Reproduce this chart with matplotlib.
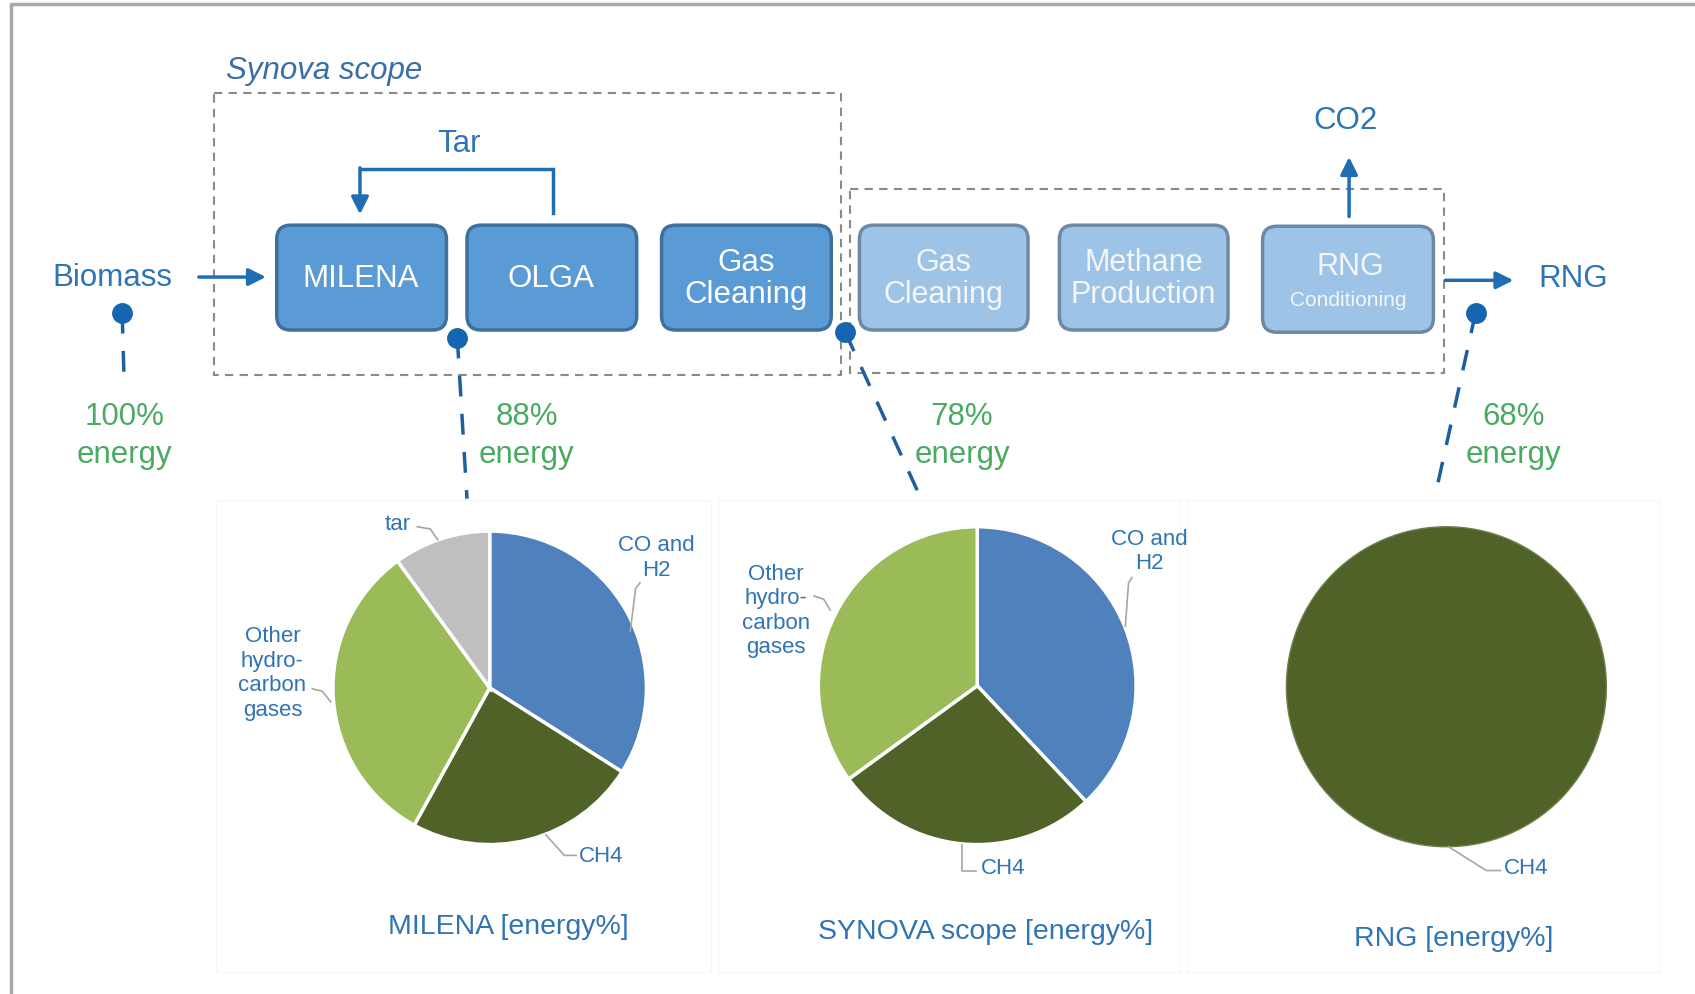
import numpy as np
import matplotlib.pyplot as plt
from matplotlib.patches import FancyBboxPatch, Rectangle

plt.rcParams['font.family'] = ['Liberation Sans', 'DejaVu Sans']

# pie data (energy %)
milena_labels = ['CO and H2', 'CH4', 'Other hydrocarbon gases', 'tar']
milena_vals = [34, 24, 32, 10]
synova_labels = ['CO and H2', 'CH4', 'Other hydrocarbon gases']
synova_vals = [38, 27, 35]
rng_labels = ['CH4']
rng_vals = [100]

# energy left at each step
energy_pct = ['100%', '88%', '78%', '68%']

blue_txt = '#2f74b5'
arrow_col = '#1f6db3'
green_txt = '#4aaa62'
pie_cols = {'CO and H2': '#4f81bd', 'CH4': '#4f6228',
            'Other hydrocarbon gases': '#9bbb59', 'tar': '#bfbfbf'}

fig = plt.figure(figsize=(16.95, 9.95), dpi=100)
ax = fig.add_axes([0, 0, 1, 1])

# process boxes (x, text)
dark_boxes = [(256, 'MILENA'), (432, 'OLGA'), (612, 'Gas\nCleaning')]
light_boxes = [(795, 'Gas\nCleaning'), (980, 'Methane\nProduction')]

for x0, txt in dark_boxes:
    ax.add_patch(FancyBboxPatch((x0, 209), 157, 97, boxstyle='round,pad=0,rounding_size=13',
                                fc='#5b9bd5', ec='#3f6f9c', lw=2.5, zorder=3))
    ax.text(x0 + 78, 258, txt, color='white', fontsize=22.5, ha='center', va='center',
            linespacing=1.1, zorder=4)
for x0, txt in light_boxes:
    ax.add_patch(FancyBboxPatch((x0, 209), 156, 97, boxstyle='round,pad=0,rounding_size=13',
                                fc='#9dc3e6', ec='#6d89a6', lw=2.5, zorder=3))
    ax.text(x0 + 78, 258, txt, color='#f4f6f8', fontsize=22, ha='center', va='center',
            linespacing=1.1, zorder=4)
ax.add_patch(FancyBboxPatch((1168, 210), 158, 98, boxstyle='round,pad=0,rounding_size=13',
                            fc='#9dc3e6', ec='#6d89a6', lw=2.5, zorder=3))
ax.text(1249, 247, 'RNG', color='#f4f6f8', fontsize=22, ha='center', va='center', zorder=4)
ax.text(1247, 278, 'Conditioning', color='#f4f6f8', fontsize=15, ha='center', va='center', zorder=4)

# scope boxes
ax.add_patch(Rectangle((198, 87), 580, 261, fill=False, ec='#8a8a8a', lw=1.5,
                       ls=(0, (4, 3)), zorder=2))
ax.add_patch(Rectangle((786, 176), 550, 170, fill=False, ec='#8a8a8a', lw=1.5,
                       ls=(0, (4, 3)), zorder=2))
ax.text(300, 65, 'Synova scope', color='#3a6ea5', fontsize=22.5, style='italic',
        ha='center', va='center')

# flows
arr = dict(arrowstyle='-|>', color=arrow_col, lw=2.5, mutation_scale=26, shrinkA=0, shrinkB=0)
ax.text(104, 257, 'Biomass', color=blue_txt, fontsize=22.5, ha='center', va='center')
ax.annotate('', xy=(246, 257), xytext=(184, 257), arrowprops=arr)
ax.plot([512, 512, 333], [198, 157, 157], color=arrow_col, lw=2.5, solid_joinstyle='miter')
ax.annotate('', xy=(333, 199), xytext=(333, 156), arrowprops=arr)
ax.text(425, 133, 'Tar', color=blue_txt, fontsize=22.5, ha='center', va='center')
ax.annotate('', xy=(1248, 146), xytext=(1248, 201), arrowprops=arr)
ax.text(1245, 112, 'CO2', color=blue_txt, fontsize=22.5, ha='center', va='center')
ax.annotate('', xy=(1400, 260), xytext=(1337, 260), arrowprops=arr)
ax.text(1455, 258, 'RNG', color=blue_txt, fontsize=22.5, ha='center', va='center')

# energy pins
pins = [((113, 290), (115, 360), (115, 403)),
        ((423, 313), (432, 462), (487, 403)),
        ((782, 308), (852, 462), (890, 403)),
        ((1365, 290), (1327, 462), (1400, 403))]
for (p, end, tpos), pct in zip(pins, energy_pct):
    ax.plot([p[0], end[0]], [p[1], end[1]], color='#1f5f9f', lw=2.5,
            ls=(0, (6, 5)), zorder=2)
    ax.plot(p[0], p[1], 'o', color='#1565b0', ms=14, zorder=5)
    ax.text(tpos[0], tpos[1], pct + '\nenergy', color=green_txt, fontsize=22.5,
            ha='center', va='center', linespacing=1.35)

# faint chart panels
for x0, x1 in [(200, 658), (665, 1092), (1098, 1535)]:
    ax.add_patch(Rectangle((x0, 463), x1 - x0, 437, fc='white', ec='#f6f6f6', lw=1, zorder=1))

# pies (y axis is flipped, so startangle -90 + counterclock gives 12 o'clock clockwise)
ax.pie(milena_vals, colors=[pie_cols[l] for l in milena_labels], center=(453, 637), radius=145,
       startangle=-90, counterclock=True, wedgeprops=dict(ec='white', lw=2.5), frame=True)
ax.pie(synova_vals, colors=[pie_cols[l] for l in synova_labels], center=(904, 635), radius=147,
       startangle=-90, counterclock=True, wedgeprops=dict(ec='white', lw=2.5), frame=True)
ax.pie(rng_vals, colors=[pie_cols[l] for l in rng_labels], center=(1338, 636), radius=148,
       startangle=-90, counterclock=True, wedgeprops=dict(ec='#6e7f4a', lw=1), frame=True)

lbl = dict(color=blue_txt, fontsize=16, linespacing=1.22)
lead = dict(color='#a6a6a6', lw=1.2)
# MILENA labels
ax.text(368, 485, 'tar', ha='center', va='center', **lbl)
ax.plot([386, 398, 405], [488, 490, 500], **lead)
ax.text(607, 516, 'CO and\nH2', ha='center', va='center', **lbl)
ax.plot([592, 588, 583], [540, 545, 585], **lead)
ax.text(252, 623, 'Other\nhydro-\ncarbon\ngases', ha='center', va='center', **lbl)
ax.plot([289, 298, 306], [638, 640, 650], **lead)
ax.text(556, 792, 'CH4', ha='center', va='center', **lbl)
ax.plot([505, 522, 533], [773, 792, 792], **lead)
ax.text(470, 857, 'MILENA [energy%]', color=blue_txt, fontsize=20.5, ha='center', va='center')

# SYNOVA labels
ax.text(1063, 510, 'CO and\nH2', ha='center', va='center', **lbl)
ax.plot([1047, 1044, 1041], [535, 540, 580], **lead)
ax.text(718, 565, 'Other\nhydro-\ncarbon\ngases', ha='center', va='center', **lbl)
ax.plot([753, 762, 768], [552, 555, 565], **lead)
ax.text(928, 803, 'CH4', ha='center', va='center', **lbl)
ax.plot([890, 890, 903], [782, 806, 806], **lead)
ax.text(912, 862, 'SYNOVA scope [energy%]', color=blue_txt, fontsize=20.5, ha='center', va='center')

# RNG labels
ax.text(1412, 803, 'CH4', ha='center', va='center', **lbl)
ax.plot([1340, 1375, 1388], [784, 806, 806], **lead)
ax.text(1345, 868, 'RNG [energy%]', color=blue_txt, fontsize=20.5, ha='center', va='center')

# outer frame
ax.plot([10, 10, 1580], [930, 4, 4], color='#a8a8a8', lw=2.5)

ax.set_aspect('equal')
ax.set_xlim(0, 1568)
ax.set_ylim(920, 0)
ax.axis('off')

plt.savefig('out.png', dpi=100)
